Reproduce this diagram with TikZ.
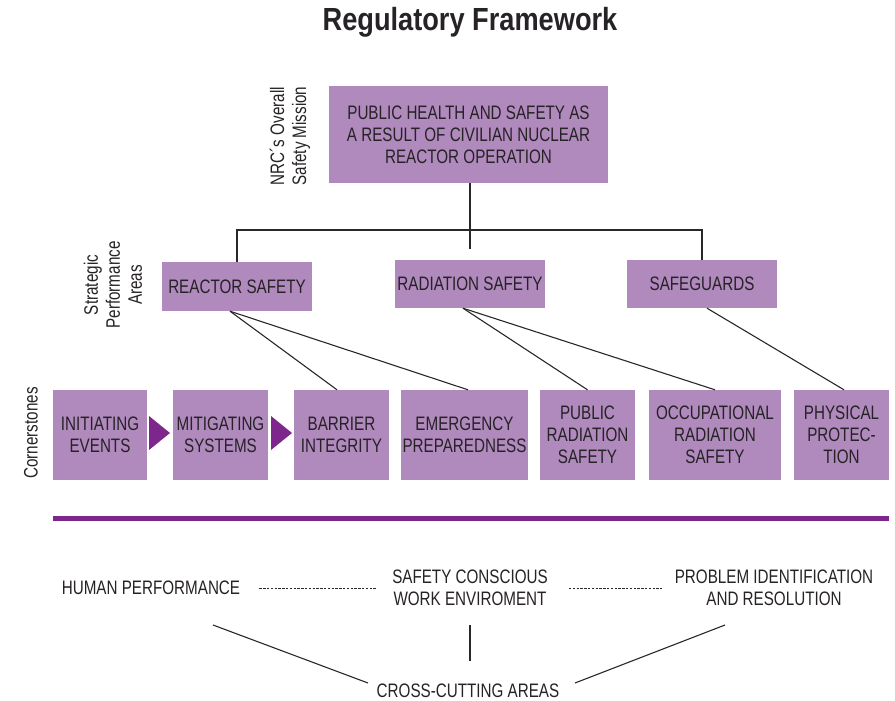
\documentclass[tikz,border=0pt]{standalone}
\usepackage{fontspec}
\setmainfont{Liberation Sans}[FakeStretch=0.78]
\newfontfamily\headfont{Liberation Sans}[FakeStretch=0.85]
\definecolor{boxfill}{RGB}{176,137,189}
\definecolor{deeppurple}{RGB}{125,38,140}
\definecolor{ink}{RGB}{38,34,38}
\definecolor{wirecol}{RGB}{40,40,40}
\begin{document}
\begin{tikzpicture}[x=1pt,y=-1pt,
  bodyfont/.style={font=\fontsize{19.5}{22}\selectfont},
  pbox/.style={bodyfont, fill=boxfill, text=ink, align=center, inner sep=0pt},
  sidenote/.style={bodyfont, text=ink, align=center, inner sep=0pt, rotate=90},
  tagtext/.style={bodyfont, text=ink, align=center, inner sep=0pt},
  wire/.style={draw=wirecol, line width=1.1pt},
  dotwire/.style={draw=wirecol, line width=1pt, dash pattern=on 2.4pt off 1.4pt},
  stone/.style={pbox, minimum height=90pt}
]
\useasboundingbox (0,0) rectangle (895,701);

% title
\node[text=ink, inner sep=0pt, font=\headfont\bfseries\fontsize{32}{36}\selectfont] (title) at (470,22) {Regulatory Framework};

% mission level
\node[pbox, minimum width=279pt, minimum height=97pt] (mission) at (468.5,134.5)
  {PUBLIC HEALTH AND SAFETY AS\\A RESULT OF CIVILIAN NUCLEAR\\REACTOR OPERATION};
\node[sidenote] (missionlbl) at (290,136) {NRC´s Overall\\Safety Mission};

% strategic performance areas
\node[pbox, minimum width=150pt, minimum height=49pt] (reactor) at (237,286.5) {REACTOR SAFETY};
\node[pbox, minimum width=150pt, minimum height=48pt] (radiation) at (470,284) {RADIATION SAFETY};
\node[pbox, minimum width=150pt, minimum height=48pt] (safeguards) at (702,284) {SAFEGUARDS};
\node[sidenote] (arealbl) at (113,285) {Strategic\\Performance\\Areas};

% cornerstones
\node[stone, minimum width=94pt] (initiating) at (100,435) {INITIATING\\EVENTS};
\node[stone, minimum width=95pt] (mitigating) at (220.5,435) {MITIGATING\\SYSTEMS};
\node[stone, minimum width=95pt] (barrier) at (341.5,435) {BARRIER\\INTEGRITY};
\node[stone, minimum width=127pt] (emergency) at (464.5,435) {EMERGENCY\\PREPAREDNESS};
\node[stone, minimum width=95pt] (public) at (587.5,435) {PUBLIC\\RADIATION\\SAFETY};
\node[stone, minimum width=132pt] (occupational) at (715,435) {OCCUPATIONAL\\RADIATION\\SAFETY};
\node[stone, minimum width=95pt] (physical) at (841.5,435) {PHYSICAL\\PROTEC-\\TION};
\node[sidenote] (stonelbl) at (31,433) {Cornerstones};

% sequence arrows between the first three cornerstones
\fill[deeppurple] (149,416) -- (170,433) -- (149,450) -- cycle;
\fill[deeppurple] (271,416) -- (292,433) -- (271,450) -- cycle;

% mission to areas
\coordinate (bus) at (470,230);
\coordinate (radstub) at (470,249);
\draw[wire] (mission.south -| bus) -- (bus);
\draw[wire] (reactor.north) |- (bus) -| (safeguards.north);
\draw[wire] (bus) -- (radstub);

% areas to cornerstones
\draw[wire] ([xshift=-7pt]reactor.south) -- ([xshift=-4.5pt]barrier.north);
\draw[wire] ([xshift=-7pt]reactor.south) -- ([xshift=3.5pt]emergency.north);
\draw[wire] ([xshift=-7pt]radiation.south) -- (public.north);
\draw[wire] ([xshift=-7pt]radiation.south) -- (occupational.north);
\draw[wire] ([xshift=5pt]safeguards.south) -- ([xshift=2.5pt]physical.north);

% divider
\draw[deeppurple, line width=5pt] (53,518) -- (889,518);

% cross-cutting areas
\node[tagtext] (human) at (151,588) {HUMAN PERFORMANCE};
\node[tagtext] (scwe) at (470,588) {SAFETY CONSCIOUS\\WORK ENVIROMENT};
\node[tagtext] (pir) at (774,588) {PROBLEM IDENTIFICATION\\AND RESOLUTION};
\node[tagtext] (cca) at (468,691) {CROSS-CUTTING AREAS};

\draw[dotwire] ([xshift=19pt]human.east) -- ([xshift=-16pt]scwe.west);
\draw[dotwire] ([xshift=21pt]scwe.east) -- ([xshift=-13pt]pir.west);

\coordinate (humanfoot) at (213,625);
\coordinate (scwefoot) at (470,625);
\coordinate (pirfoot) at (725,625);
\coordinate (ccaleft) at (368,683);
\coordinate (ccatop) at (470,661);
\coordinate (ccaright) at (575,683);
\draw[wire] (humanfoot) -- (ccaleft);
\draw[wire] (scwefoot) -- (ccatop);
\draw[wire] (pirfoot) -- (ccaright);
\end{tikzpicture}
\end{document}
